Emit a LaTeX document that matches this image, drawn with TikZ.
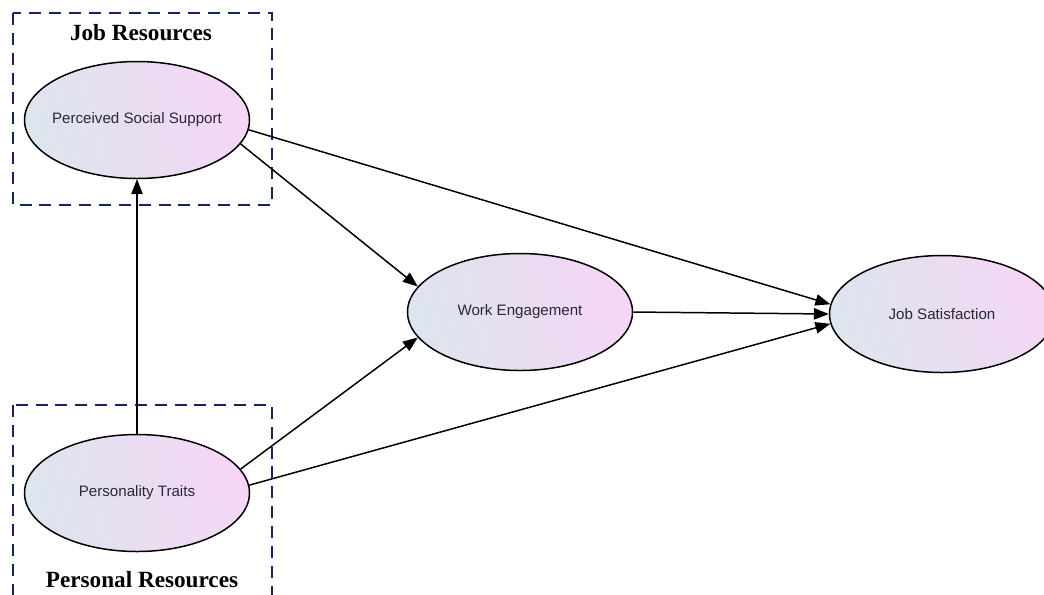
\documentclass[tikz,border=0pt]{standalone}
\usepackage{fontspec}
\setmainfont{Liberation Serif}
\newfontfamily\arialfont{Liberation Sans}
\usepackage{tikz}
\usetikzlibrary{arrows.meta,shapes.geometric,positioning}

\definecolor{boxblue}{RGB}{20,36,100}
\definecolor{shadeblue}{RGB}{221,229,238}
\definecolor{shadepink}{RGB}{245,214,245}
\definecolor{labelgray}{RGB}{40,40,55}

\begin{document}
\begin{tikzpicture}[->,>={Triangle[length=8.5pt,width=6.5pt]},auto,on grid,
line width=0.85pt]

\tikzstyle{latent}=[ellipse,draw=black,line width=0.85pt,minimum width=4.5cm,
  minimum height=2.34cm,inner xsep=-0.5cm,inner ysep=0pt,left color=shadeblue,
  right color=shadepink,shading angle=105,text=labelgray,
  font=\arialfont\fontsize{8.6}{10}\selectfont]
\tikzstyle{resbox}=[draw=boxblue,line width=1.1pt,dash pattern=on 6.8pt off 4.5pt]
\tikzstyle{boxtitle}=[font=\bfseries\fontsize{13.2}{15}\selectfont,text=black]

\useasboundingbox (0,0) rectangle (20.88,-11.88);
\clip (0,0) rectangle (20.88,-11.88);

% resource groups
\draw[-,resbox] (0.26,-0.26) rectangle (5.44,-4.10);
\draw[-,resbox] (0.26,-8.10) rectangle (5.44,-12.40);
\node[boxtitle] (jobres) at (2.82,-0.66) {Job Resources};
\node[boxtitle] (perres) at (2.84,-11.60) {Personal Resources};

\node[latent] (pss)                                  at (2.74,-2.40) {Perceived Social Support};
\node[latent] (pt)  [below=7.46cm of pss]            {Personality Traits};
\node[latent] (we)  [below right=3.84cm and 7.66cm of pss] {Work Engagement};
\node[latent] (js)  [right=8.44cm of we, yshift=-0.04cm]  {Job Satisfaction};

\path (pt.north) edge (pss.south)
      (pt.13)    edge (we.-166)
      (pt.4)     edge (js.-175)
      (pss.-13)  edge (we.166)
      (pss.-5)   edge (js.175)
      (we.east)  edge (js.west);
\end{tikzpicture}
\end{document}
